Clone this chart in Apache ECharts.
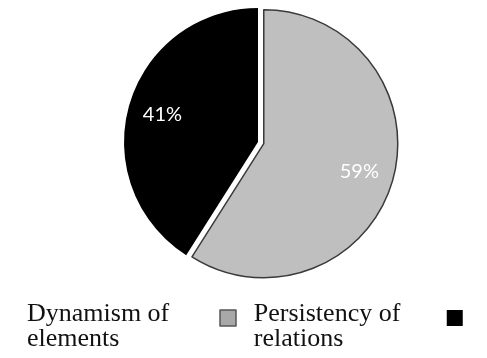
<!DOCTYPE html>
<html>
<head>
<meta charset="utf-8">
<script src="https://cdn.jsdelivr.net/npm/echarts@6/dist/echarts.min.js"></script>
<style>html,body{margin:0;padding:0;background:#fff}#c{width:487px;height:358px}</style>
</head>
<body>
<div id="c"></div>
<script>
var categories = ['Dynamism of elements', 'Persistency of relations'];
var values = [59, 41];
var labels = ['59%', '41%'];
var colors = ['#bfbfbf', '#000000'];

var chart = echarts.init(document.getElementById('c'));
var pieData = categories.map(function (n, i) {
  return {
    name: n, value: values[i], selected: i === 0,
    itemStyle: i === 0 ? {color: colors[i], borderColor: '#3a3a3a', borderWidth: 1.5}
                       : {color: colors[i], borderWidth: 0}
  };
});
var labelData = categories.map(function (n, i) {
  return {name: n, value: values[i], selected: i === 0, label: {formatter: labels[i]}};
});
chart.setOption({
  animation: false,
  legend: {
    left: 22, top: 286, orient: 'horizontal', align: 'right',
    itemWidth: 16, itemHeight: 16, itemGap: 17,
    selectedMode: false,
    data: [
      {name: categories[0], icon: 'rect', itemStyle: {color: '#a8a8a8', borderColor: '#555', borderWidth: 1.5}},
      {name: categories[1], icon: 'rect', itemStyle: {color: '#000', borderWidth: 0}}
    ],
    formatter: function (n) {
      var p = n.split(' of ');
      return '{e| }\n{t|' + p[0] + ' of}\n{t|' + p[1] + '}';
    },
    textStyle: {
      width: 188, align: 'left',
      rich: {
        e: {fontSize: 4, lineHeight: 17},
        t: {fontFamily: 'Liberation Serif', fontSize: 26, lineHeight: 25, color: '#111', align: 'left'}
      }
    }
  },
  series: [
    {
      type: 'pie', center: [258, 142], radius: [0, 134], startAngle: 90, clockwise: true,
      selectedMode: 'single', selectedOffset: 6, silent: true,
      label: {show: false}, labelLine: {show: false},
      data: pieData
    },
    {
      type: 'pie', center: [258, 142], radius: [59, 134], startAngle: 90, clockwise: true,
      selectedMode: 'single', selectedOffset: 6, silent: true,
      itemStyle: {color: 'rgba(0,0,0,0)', borderWidth: 0},
      label: {show: true, position: 'inside', color: '#fff', fontFamily: 'Lato', fontSize: 20},
      labelLine: {show: false},
      data: labelData
    }
  ]
});
</script>
</body>
</html>
